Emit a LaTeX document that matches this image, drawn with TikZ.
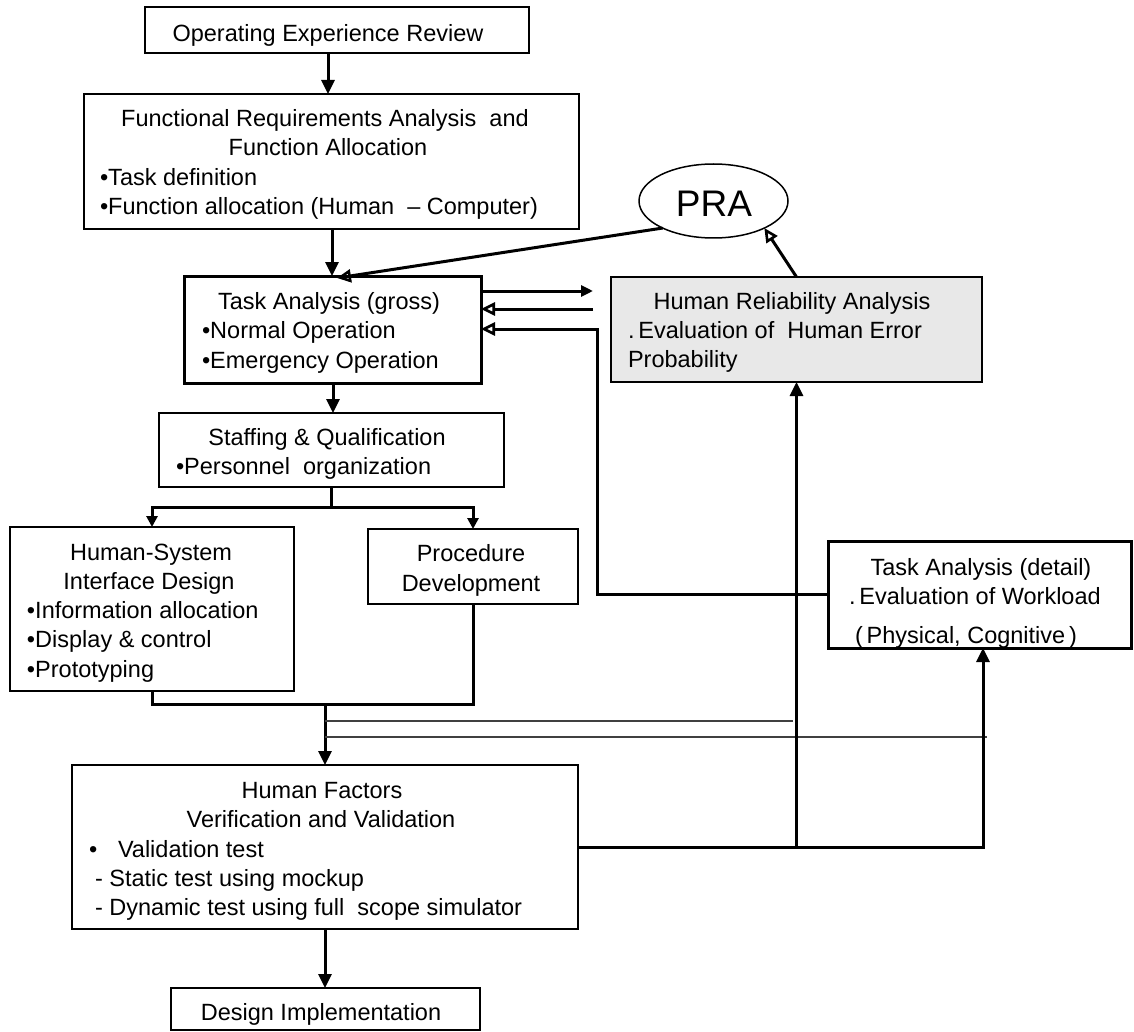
\documentclass[tikz,border=0pt]{standalone}
\usepackage{fontspec}
\setmainfont{Liberation Sans}
\usetikzlibrary{arrows.meta,shapes.geometric}
\begin{document}
\begin{tikzpicture}[x=1pt,y=-1pt,
  box/.style={draw=black, line width=1.5pt, fill=white, inner sep=0pt, outer sep=0pt},
  thickbox/.style={box, line width=3pt},
  txt/.style={inner sep=0pt, outer sep=0pt, font=\fontsize{23.5}{29}\selectfont},
  ln/.style={line width=3pt},
  arr/.style={ln, -{Triangle[length=14pt,width=13pt]}},
  arrs/.style={ln, -{Triangle[length=11pt,width=11pt]}},
  arro/.style={ln, -{Triangle[open,length=14pt,width=13pt,line width=2.6pt]}},
  thinln/.style={line width=1.5pt, draw=black!75}
]
\useasboundingbox (0,0) rectangle (1134,1032);

% helper coordinates
\foreach \v in {325,328,332,333,337,473,593,597,793,983,987}{\coordinate (x\v) at (\v,0);}
\foreach \v in {291,309,329,507,594,704,721,737}{\coordinate (y\v) at (0,\v);}

% boxes
\node[box, minimum width=384pt, minimum height=46pt] (oer) at (337,30) {};
\node[box, minimum width=495pt, minimum height=135pt] (fr) at (331.5,161.5) {};
\node[thickbox, minimum width=297pt, minimum height=107pt] (tag) at (332.5,329.5) {};
\node[draw=black, line width=1.5pt, ellipse, minimum width=149pt, minimum height=74pt, inner sep=0pt, outer sep=0pt] (pra) at (713.5,201) {};
\node[box, fill=black!9, minimum width=371pt, minimum height=105pt] (hra) at (796.5,329.5) {};
\node[box, minimum width=345pt, minimum height=74pt] (staff) at (331.5,450) {};
\node[box, minimum width=284pt, minimum height=164pt] (hsi) at (152,609) {};
\node[box, minimum width=210pt, minimum height=75pt] (proc) at (473,566.5) {};
\node[thickbox, minimum width=303pt, minimum height=107pt] (tad) at (979.5,594.5) {};
\node[box, minimum width=506pt, minimum height=164pt] (hf) at (325,847) {};
\node[box, minimum width=309pt, minimum height=42pt] (di) at (325.5,1009) {};

% texts
\node[txt, anchor=base] (t1) at (328,42) {Operating Experience Review};
\node[txt, anchor=base] (t2) at (325,127) {Functional Requirements Analysis\ \ and};
\node[txt, anchor=base] (t3) at (328,156) {Function Allocation};
\node[txt, anchor=base west] (t4) at (100,186) {•Task definition};
\node[txt, anchor=base west] (t5) at (100,215) {•Function allocation (Human\ \ – Computer)};

\node[txt, anchor=base] (t6) at (329,309) {Task Analysis (gross)};
\node[txt, anchor=base west] (t7) at (202,338) {•Normal Operation};
\node[txt, anchor=base west] (t8) at (202,368) {•Emergency Operation};

\node[inner sep=0pt, anchor=base, font=\fontsize{37}{44}\selectfont] (t9) at (714,217) {PRA};

\node[txt, anchor=base] (t10) at (792,309) {Human Reliability Analysis};
\node[txt, anchor=base west] (t11) at (628,338) {.\,Evaluation of\ \ Human Error};
\node[txt, anchor=base west] (t12) at (628,367) {Probability};

\node[txt, anchor=base] (t13) at (327,445) {Staffing \& Qualification};
\node[txt, anchor=base west] (t14) at (176,474) {•Personnel\ \ organization};

\node[txt, anchor=base] (t15) at (151,560) {Human-System};
\node[txt, anchor=base] (t16) at (149,589) {Interface Design};
\node[txt, anchor=base west] (t17) at (27,618) {•Information allocation};
\node[txt, anchor=base west] (t18) at (27,647) {•Display \& control};
\node[txt, anchor=base west] (t19) at (27,677) {•Prototyping};

\node[txt, anchor=base] (t20) at (471,561) {Procedure};
\node[txt, anchor=base] (t21) at (471,591) {Development};

\node[txt, anchor=base] (t22) at (981,575) {Task Analysis (detail)};
\node[txt, anchor=base west] (t23) at (849,604) {.\,Evaluation of Workload};
\node[txt, anchor=base west] (t24) at (855,643) {(\,Physical, Cognitive\,)};

\node[txt, anchor=base] (t25) at (322,798) {Human Factors};
\node[txt, anchor=base] (t26) at (321,827) {Verification and Validation};
\node[txt, anchor=base west] (t27) at (89,857) {•};
\node[txt, anchor=base west] (t28) at (118,857) {Validation test};
\node[txt, anchor=base west] (t29) at (95,886) {- Static test using mockup};
\node[txt, anchor=base west] (t30) at (95,915) {- Dynamic test using full\ \ scope simulator};

\node[txt, anchor=base] (t31) at (321,1020) {Design Implementation};

% connectors
\draw[arr] (oer.south -| x328) -- (fr.north -| x328);
\draw[arr] (fr.south -| x332) -- (tag.north -| x332);
\draw[arro] (pra.208) -- ([yshift=-2pt]tag.north -| x337);
\draw[arro] (hra.north) -- (pra.332);

\draw[ln, -{Triangle[length=12pt,width=11pt]}] (tag.east |- y291) -- (x593 |- y291);
\draw[arro] (x593 |- y309) -- (tag.east |- y309);
\draw[arro] (tad.west |- y594) -| (x597 |- y329) -- (tag.east |- y329);

\draw[arr] (tag.south -| x333) -- (staff.north -| x333);
\draw[arrs] (staff.south) -- (staff.south |- y507) -| (hsi.north);
\draw[arrs] (staff.south |- y507) -| (proc.north);

\draw[ln] (hsi.south) |- (proc.south |- y704) -- (proc.south);
\draw[arr] (hf.north |- y704) -- (hf.north);

\draw[thinln] (x325 |- y721) -- (x793 |- y721);
\draw[thinln] (x325 |- y737) -- (x987 |- y737);

\draw[arr] (hf.east) -| (tad.south -| x983);
\draw[arr] (hra.south |- hf.east) -- (hra.south);

\draw[arr] (hf.south) -- (di.north -| hf.south);
\end{tikzpicture}
\end{document}
